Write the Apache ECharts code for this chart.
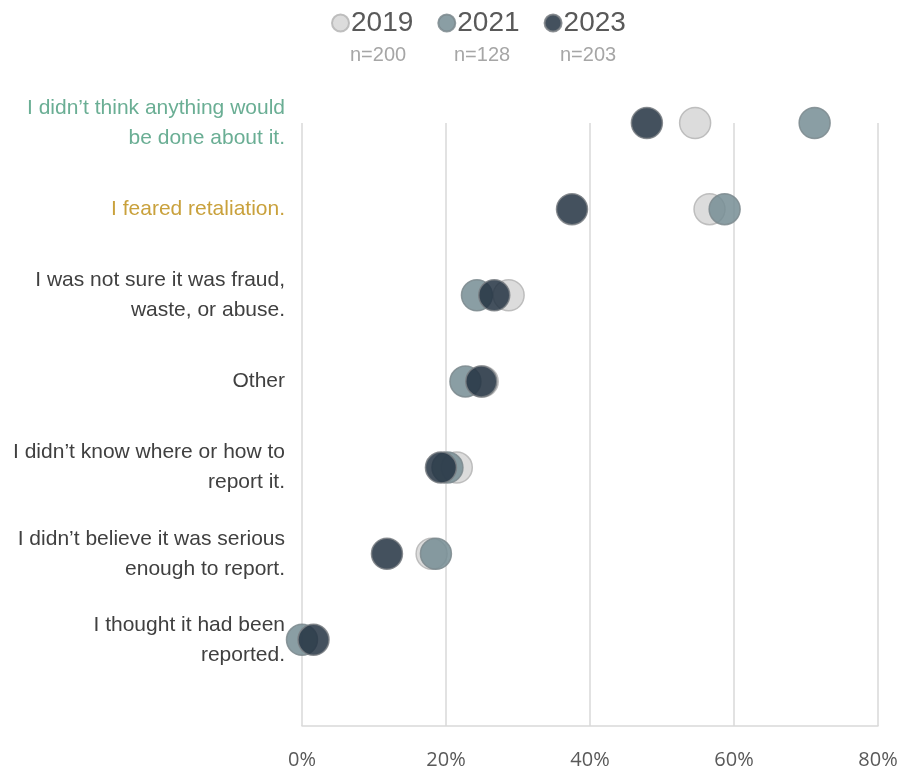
<!DOCTYPE html>
<html>
<head>
<meta charset="utf-8">
<script src="https://cdn.jsdelivr.net/npm/echarts@6/dist/echarts.min.js"></script>
<style>
  html, body { margin: 0; padding: 0; background: #ffffff; }
  #chart { width: 904px; height: 771px; }
</style>
</head>
<body>
<div id="chart"></div>
<script>
// Reasons for not reporting, listed top to bottom
const categories = [
  "I didn\u2019t think anything would\nbe done about it.",
  "I feared retaliation.",
  "I was not sure it was fraud,\nwaste, or abuse.",
  "Other",
  "I didn\u2019t know where or how to\nreport it.",
  "I didn\u2019t believe it was serious\nenough to report.",
  "I thought it had been\nreported."
];
// Label style key per category (highlighted rows get their own colour)
const labelStyles = ["green", "gold", "plain", "plain", "plain", "plain", "plain"];

const years = ["2019", "2021", "2023"];
const sampleSizes = ["n=200", "n=128", "n=203"];

// Percent of respondents per category, same order as categories
const values2019 = [54.6, 56.6, 28.7, 25.1, 21.5, 18.0, null];
const values2021 = [71.2, 58.7, 24.3, 22.7, 20.2, 18.6, 0.0];
const values2023 = [47.9, 37.5, 26.7, 24.9, 19.3, 11.8, 1.6];

const xTicks = [0, 20, 40, 60, 80];

const seriesValues = [values2019, values2021, values2023];
const fillColors = ["#d6d6d6", "#768d94", "#233342"];
const borderColors = ["#b5b5b5", "#7d8a8e", "#7a7f84"];

const n = categories.length;
// Rows are placed on a numeric y scale: top row = n, bottom row = 1
function rowPos(i) { return n - i; }

const series = years.map((yr, s) => ({
  name: yr,
  type: "scatter",
  clip: false,
  symbol: "circle",
  symbolSize: 31,
  itemStyle: {
    color: fillColors[s],
    opacity: 0.85,
    borderColor: borderColors[s],
    borderWidth: 1.5
  },
  emphasis: { disabled: true },
  data: seriesValues[s]
    .map((v, i) => (v === null ? null : [v, rowPos(i)]))
    .filter(d => d !== null)
}));

const labelFont = "Liberation Sans, Arial, sans-serif";
const labelRich = {
  plain: { color: "#404040", fontSize: 21, lineHeight: 30, fontFamily: labelFont, align: "right" },
  green: { color: "#6aae94", fontSize: 21, lineHeight: 30, fontFamily: labelFont, align: "right" },
  gold:  { color: "#c9a13c", fontSize: 21, lineHeight: 30, fontFamily: labelFont, align: "right" }
};

const chart = echarts.init(document.getElementById("chart"), null, { renderer: "canvas" });

const legendCenters = [380, 484, 590];

chart.setOption({
  animation: false,
  backgroundColor: "#ffffff",
  grid: { left: 302, right: 26, top: 123, bottom: 45, containLabel: false },
  legend: {
    data: years,
    left: 326,
    top: 4,
    icon: "circle",
    itemWidth: 17,
    itemHeight: 17,
    itemGap: 24,
    textStyle: { fontSize: 28, color: "#595959", fontFamily: labelFont, padding: [0, 0, 0, -3] }
  },
  graphic: sampleSizes.map((t, i) => ({
    type: "text",
    left: legendCenters[i] - 30,
    top: 45,
    style: { text: t, fontSize: 20, fill: "#a6a6a6", fontFamily: labelFont, width: 60, align: "center" }
  })),
  xAxis: {
    type: "value",
    min: 0,
    max: 80,
    interval: 20,
    axisLine: { show: true, lineStyle: { color: "#d9d9d9", width: 1.5 } },
    axisTick: { show: false },
    splitLine: { show: true, lineStyle: { color: "#d9d9d9", width: 1.5 } },
    axisLabel: {
      margin: 24,
      fontSize: 20,
      color: "#595959",
      fontFamily: "Open Sans, sans-serif",
      customValues: xTicks,
      formatter: v => v + "%"
    }
  },
  yAxis: {
    type: "value",
    min: 0,
    max: n,
    interval: 1,
    axisLine: { show: false },
    axisTick: { show: false },
    splitLine: { show: false },
    axisLabel: {
      margin: 17,
      align: "right",
      formatter: v => {
        const i = n - v;
        if (i < 0 || i >= n) return "";
        const key = labelStyles[i];
        return categories[i].split("\n").map(l => "{" + key + "|" + l + "}").join("\n");
      },
      rich: labelRich
    }
  },
  series: series
});
</script>
</body>
</html>
